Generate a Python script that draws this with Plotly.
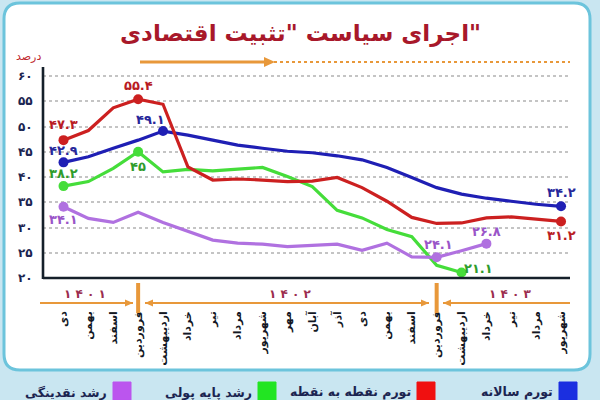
import plotly.graph_objects as go

# ---------------- data ----------------
months = ["دی", "بهمن", "اسفند",
          "فروردین", "اردیبهشت", "خرداد", "تیر", "مرداد", "شهریور",
          "مهر", "آبان", "آذر", "دی", "بهمن", "اسفند",
          "فروردین", "اردیبهشت", "خرداد", "تیر", "مرداد", "شهریور"]
years = ["۱۴۰۱", "۱۴۰۲", "۱۴۰۳"]
series_names = ["تورم سالانه", "تورم نقطه به نقطه", "رشد پایه پولی", "رشد نقدینگی"]

annual_inflation = [42.9, 44.0, 45.7, 47.3, 49.1, 48.3, 47.3, 46.3, 45.7, 45.1, 44.8,
                    44.2, 43.4, 41.9, 39.9, 37.9, 36.6, 35.8, 35.2, 34.6, 34.2]
p2p_inflation = [47.3, 49.2, 53.7, 55.4, 54.4, 42.0, 39.4, 39.6, 39.4, 39.1, 39.2,
                 39.9, 37.9, 35.2, 32.0, 30.8, 30.9, 31.9, 32.1, 31.6, 31.2]
base_money_growth = [38.2, 39.1, 41.7, 45.0, 41.0, 41.5, 41.2, 41.5, 41.9, 40.1, 38.1,
                     33.4, 31.9, 29.6, 28.2, 22.5, 21.1]
liquidity_growth = [34.1, 31.8, 31.0, 33.0, 31.0, 29.2, 27.5, 26.9, 26.7, 26.2, 26.4,
                    26.7, 25.5, 26.9, 24.2, 24.1, 25.4, 26.8]

y_ticks = [20, 25, 30, 35, 40, 45, 50, 55, 60]

# ---------------- helpers ----------------
FA = str.maketrans("0123456789", "۰۱۲۳۴۵۶۷۸۹")


def fa(v):
    s = ("%g" % v) if float(v).is_integer() else ("%.1f" % v)
    return s.translate(FA)


W, H = 600, 400
L, R, T, B = 43, 30, 67, 92
PW, PH = W - L - R, H - T - B


def xp(px):
    return (px - L) / PW


def yp(py):
    return (H - B - py) / PH


FONT = "DejaVu Sans"
C_BLUE, C_RED, C_GREEN, C_PURPLE = "#1f1fb4", "#cc2020", "#45dd3a", "#b071e0"
L_BLUE, L_RED, L_GREEN, L_PURPLE = "#27279a", "#b81c24", "#2f9c2c", "#9a55c8"
ORANGE = "#e8983a"

fig = go.Figure()

series = [
    (annual_inflation, C_BLUE, L_BLUE, series_names[0]),
    (p2p_inflation, C_RED, L_RED, series_names[1]),
    (base_money_growth, C_GREEN, L_GREEN, series_names[2]),
    (liquidity_growth, C_PURPLE, L_PURPLE, series_names[3]),
]
# markers / labels: (series index, month index, xshift, yshift)
marks = [
    (1, 0, 0, 16), (1, 3, 0, 14), (1, 20, 0, -14),
    (0, 0, 0, 12), (0, 4, -13, 12), (0, 20, 0, 14),
    (2, 0, 0, 13), (2, 3, 0, -15), (2, 16, 17, 4),
    (3, 0, 0, -13), (3, 15, 2, 13), (3, 17, 0, 12),
]

for vals, col, lcol, name in [series[2], series[3], series[0], series[1]]:
    fig.add_trace(go.Scatter(
        x=list(range(len(vals))), y=vals, mode="lines", name=name,
        line=dict(color=col, width=3.2, shape="linear"), showlegend=False,
        hoverinfo="skip"))

annotations = []
for si, mi, xs, ys in marks:
    vals, col, lcol, name = series[si]
    fig.add_trace(go.Scatter(
        x=[mi], y=[vals[mi]], mode="markers", showlegend=False,
        marker=dict(color=col, size=10), hoverinfo="skip"))
    annotations.append(dict(
        x=mi, y=vals[mi], xref="x", yref="y", text="<b>%s</b>" % fa(vals[mi]),
        showarrow=False, xshift=xs, yshift=ys, xanchor="center", yanchor="middle",
        font=dict(family=FONT, size=13, color=lcol)))

shapes = []
# card
x0, y0, x1, y1, r = 4, 3, 590, 370, 16
path = ("M {a},{b} L {c},{b} Q {x1},{b} {x1},{d} L {x1},{e} Q {x1},{f} {c},{f} "
        "L {a},{f} Q {x0},{f} {x0},{e} L {x0},{d} Q {x0},{b} {a},{b} Z").format(
    a=xp(x0 + r), b=yp(y0), c=xp(x1 - r), d=yp(y0 + r), e=yp(y1 - r), f=yp(y1),
    x0=xp(x0), x1=xp(x1))
shapes.append(dict(type="path", path=path, xref="paper", yref="paper",
                   fillcolor="white", line=dict(color="#6cc4dc", width=3), layer="below"))
# axis lines
shapes.append(dict(type="line", xref="paper", yref="y", x0=0, x1=1, y0=20, y1=20,
                   line=dict(color="#15202a", width=2.6)))
shapes.append(dict(type="line", xref="paper", yref="paper", x0=0, x1=0, y0=yp(279), y1=1,
                   line=dict(color="#15202a", width=2.6)))
# top orange line: solid part then dotted part
shapes.append(dict(type="line", xref="paper", yref="paper", x0=xp(274), x1=xp(570),
                   y0=yp(62), y1=yp(62), line=dict(color=ORANGE, width=2, dash="dot")))
shapes.append(dict(type="line", xref="paper", yref="paper", x0=xp(140), x1=xp(266),
                   y0=yp(62), y1=yp(62), line=dict(color=ORANGE, width=3)))
shapes.append(dict(type="path", xref="paper", yref="paper",
                   path="M {a},{b} L {c},{d} L {a},{e} Z".format(
                       a=xp(264), b=yp(57), c=xp(275), d=yp(62), e=yp(67)),
                   fillcolor=ORANGE, line=dict(width=0)))
# year separators
for mi in (3, 15):
    shapes.append(dict(type="line", xref="x", yref="paper", x0=mi, x1=mi,
                       y0=yp(313), y1=yp(283), line=dict(color=ORANGE, width=4)))

# bracket row lines with arrow heads
by = 303
segs = [(40, 133, False, True), (145, 429, True, True), (443, 570, True, False)]
for a, b, left_head, right_head in segs:
    shapes.append(dict(type="line", xref="paper", yref="paper", x0=xp(a), x1=xp(b),
                       y0=yp(by), y1=yp(by), line=dict(color=ORANGE, width=2)))
    if right_head:
        shapes.append(dict(type="path", xref="paper", yref="paper",
                           path="M {a},{b} L {c},{d} L {a},{e} Z".format(
                               a=xp(b - 8), b=yp(by - 3.5), c=xp(b), d=yp(by), e=yp(by + 3.5)),
                           fillcolor=ORANGE, line=dict(width=0)))
    if left_head:
        shapes.append(dict(type="path", xref="paper", yref="paper",
                           path="M {a},{b} L {c},{d} L {a},{e} Z".format(
                               a=xp(a + 8), b=yp(by - 3.5), c=xp(a), d=yp(by), e=yp(by + 3.5)),
                           fillcolor=ORANGE, line=dict(width=0)))
for yr, px in zip(years, (85, 290, 510)):
    annotations.append(dict(x=xp(px), y=yp(294), xref="paper", yref="paper",
                            xanchor="center", yanchor="middle",
                            text="<b>%s</b>" % " ".join(yr), showarrow=False,
                            font=dict(family=FONT, size=12, color="#9b2d4e")))

# title and unit
annotations.append(dict(x=xp(300), y=yp(33), xref="paper", yref="paper",
                        xanchor="center", yanchor="middle",
                        text='<b>اجرای سیاست "تثبیت اقتصادی"</b>', showarrow=False,
                        font=dict(family=FONT, size=23, color="#a8182a")))
annotations.append(dict(x=xp(28), y=yp(57), xref="paper", yref="paper",
                        xanchor="center", yanchor="middle",
                        text="درصد", showarrow=False,
                        font=dict(family=FONT, size=11, color="#c0282d")))

# manual legend
legend_items = [(series_names[0], "#1b2fe0", 568), (series_names[1], "#f01010", 426),
                (series_names[2], "#22e522", 267), (series_names[3], "#bb55ee", 122)]
for name, col, cx in legend_items:
    shapes.append(dict(type="rect", xref="paper", yref="paper",
                       x0=xp(cx - 9), x1=xp(cx + 9), y0=yp(400), y1=yp(382),
                       fillcolor=col, line=dict(color=col, width=1)))
    annotations.append(dict(x=xp(cx - 13), y=yp(392), xref="paper", yref="paper",
                            text="<b>%s</b>" % name, showarrow=False,
                            xanchor="right", yanchor="middle",
                            font=dict(family=FONT, size=12.5, color="#1b2450")))

fig.update_layout(
    width=W, height=H,
    margin=dict(l=L, r=R, t=T, b=B),
    paper_bgcolor="#c9e6f1", plot_bgcolor="rgba(0,0,0,0)",
    shapes=shapes, annotations=annotations,
    xaxis=dict(range=[-0.824, 20.36], tickmode="array",
               tickvals=list(range(len(months))),
               ticktext=["<b>%s</b>" % m for m in months], tickangle=-90,
               showgrid=False, zeroline=False, showline=False, ticks="",
               automargin=False,
               tickfont=dict(family=FONT, size=11, color="#141824")),
    yaxis=dict(range=[20 - 30 / 5.05, 60 + 9 / 5.05], tickmode="array",
               tickvals=y_ticks, ticktext=["<b>%s</b>" % fa(v) for v in y_ticks],
               showgrid=True, gridcolor="#c4c4c4", gridwidth=1.5, griddash="dot",
               zeroline=False, showline=False, ticks="outside", ticklen=7,
               tickcolor="rgba(0,0,0,0)", automargin=False,
               tickfont=dict(family=FONT, size=12, color="#1b2450")),
)

fig.write_html("out.html", config={"displayModeBar": False},
               post_script="document.body.style.margin='0px';document.body.style.overflow='hidden';")
